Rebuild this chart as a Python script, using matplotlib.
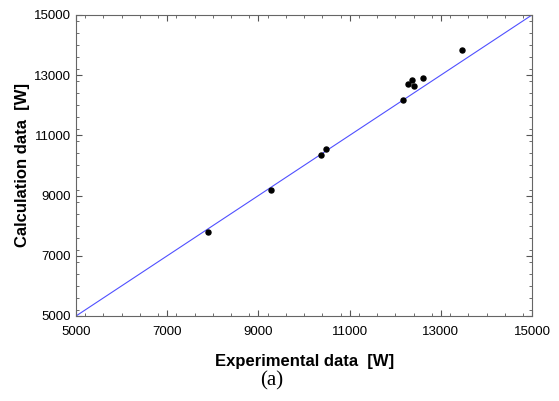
import numpy as np
import matplotlib.pyplot as plt
from matplotlib.ticker import MultipleLocator

# Data
experimental = [7900, 9280, 10370, 10490, 12160, 12270, 12360, 12410, 12610, 13460]
calculated = [7800, 9190, 10330, 10560, 12170, 12700, 12850, 12650, 12900, 13840]
ref_line = [5000, 15000]
ticks = [5000, 7000, 9000, 11000, 13000, 15000]

plt.rcParams['font.family'] = ['Liberation Sans', 'DejaVu Sans']

fig = plt.figure(figsize=(5.59, 4.01), dpi=100)
ax = fig.add_axes([0.136, 0.212, 0.816, 0.751])

ax.plot(ref_line, ref_line, color='#5050ff', linewidth=0.8)
ax.plot(experimental, calculated, 'o', color='black', markersize=3.6)

ax.set_xlim(5000, 15000)
ax.set_ylim(5000, 15000)
ax.set_xticks(ticks)
ax.set_yticks(ticks)
ax.xaxis.set_minor_locator(MultipleLocator(400))
ax.yaxis.set_minor_locator(MultipleLocator(400))
ax.tick_params(which='both', direction='in', top=True, right=True, color='#555555')
ax.tick_params(which='major', length=4, labelsize=9.5)
ax.tick_params(which='minor', length=2)
ax.tick_params(axis='x', which='major', pad=7)
for s in ax.spines.values():
    s.set_color('#666666')
    s.set_linewidth(0.8)

ax.set_xlabel('Experimental data  [W]', fontsize=12, fontweight='bold', labelpad=12)
ax.set_ylabel('Calculation data  [W]', fontsize=12, fontweight='bold', labelpad=3)

fig.text(272 / 559, 1 - 381 / 401, '(a)', fontsize=15, family='Liberation Serif',
         ha='center', va='center')

fig.savefig('out.png', dpi=100)
